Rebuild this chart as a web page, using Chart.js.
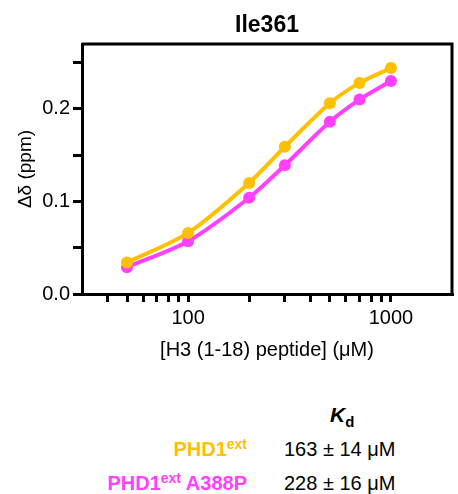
<!DOCTYPE html>
<html>
<head>
<meta charset="utf-8">
<script src="https://cdn.jsdelivr.net/npm/chart.js@4/dist/chart.umd.min.js"></script>
<style>
  body { margin: 0; background: #fff; font-family: "Liberation Sans", Arial, sans-serif; }
  #wrap { position: relative; width: 458px; height: 494px; }
  #chartBox { position: absolute; left: 0; top: 0; width: 458px; height: 370px; }
  .t { position: absolute; font-size: 20px; line-height: 20px; white-space: nowrap; }
  .b { font-weight: bold; }
  sup { font-size: 14px; vertical-align: 7px; line-height: 0; }
</style>
</head>
<body>
<div id="wrap">
  <div id="chartBox"><canvas id="c" width="458" height="370"></canvas></div>
  <div class="t b" style="left:330px;top:405px;font-size:21px;"><i>K</i><span style="font-size:15px;position:relative;top:5px;">d</span></div>
  <div id="row0" class="t b" style="right:211px;top:439px;"></div>
  <div id="val0" class="t" style="left:284px;top:439px;"></div>
  <div id="row1" class="t b" style="right:211px;top:473px;"></div>
  <div id="val1" class="t" style="left:284px;top:473px;"></div>
</div>
<script>
// concentrations (µM)
var concentrations = [50, 100, 200, 300, 500, 700, 1000];
var phd1Shift = [0.034, 0.066, 0.120, 0.159, 0.206, 0.228, 0.244];
var a388pShift = [0.029, 0.057, 0.104, 0.139, 0.186, 0.210, 0.230];

var seriesNames = ['PHD1<sup>ext</sup>', 'PHD1<sup>ext</sup> A388P'];
var kdTexts = ['163 ± 14 μM', '228 ± 16 μM'];
var seriesColors = ['#ffc000', '#ff40ff'];

var xTickValues = [40, 50, 60, 70, 80, 90, 100, 200, 300, 400, 500, 600, 700, 800, 900, 1000];
var xTickLabels = { 100: '100', 1000: '1000' };
var yTickValues = [0, 0.05, 0.1, 0.15, 0.2, 0.25];
var yTickLabels = { 0: '0.0', 0.1: '0.1', 0.2: '0.2' };

for (var i = 0; i < 2; i++) {
    var r = document.getElementById('row' + i);
    r.innerHTML = seriesNames[i];
    r.style.color = seriesColors[i];
    document.getElementById('val' + i).textContent = kdTexts[i];
}

function toPoints(xs, ys) {
    return xs.map(function (x, i) { return { x: x, y: ys[i] }; });
}

var FONT = '"Liberation Sans", Arial, sans-serif';

var boxPlugin = {
    id: 'boxPlugin',
    afterDraw: function (chart) {
        var ctx = chart.ctx, a = chart.chartArea;
        ctx.save();
        ctx.strokeStyle = '#000';
        ctx.lineWidth = 3;
        ctx.beginPath();
        ctx.moveTo(a.left, a.top);
        ctx.lineTo(a.right, a.top);
        ctx.lineTo(a.right, a.bottom);
        ctx.stroke();
        ctx.fillStyle = '#000';
        ctx.font = 'bold 23px ' + FONT;
        ctx.textAlign = 'center';
        ctx.textBaseline = 'middle';
        ctx.fillText('Ile361', (a.left + a.right) / 2, 26);
        ctx.restore();
    }
};

var ctx = document.getElementById('c').getContext('2d');
var chart = new Chart(ctx, {
    type: 'scatter',
    data: {
        datasets: [
            {
                label: 'PHD1ext',
                data: toPoints(concentrations, phd1Shift),
                borderColor: seriesColors[0],
                backgroundColor: seriesColors[0],
                showLine: true,
                borderWidth: 4,
                pointRadius: 6,
                pointBorderWidth: 0,
                tension: 0.3
            },
            {
                label: 'PHD1ext A388P',
                data: toPoints(concentrations, a388pShift),
                borderColor: seriesColors[1],
                backgroundColor: seriesColors[1],
                showLine: true,
                borderWidth: 4,
                pointRadius: 6,
                pointBorderWidth: 0,
                tension: 0.3
            }
        ]
    },
    options: {
        responsive: false,
        animation: false,
        layout: { padding: { top: 44, right: 2, left: 0, bottom: 0 } },
        plugins: {
            legend: { display: false },
            tooltip: { enabled: false },
            title: { display: false }
        },
        scales: {
            x: {
                type: 'logarithmic',
                min: 30,
                max: 2000,
                afterBuildTicks: function (scale) {
                    scale.ticks = xTickValues.map(function (v) { return { value: v }; });
                },
                afterFit: function (scale) { scale.height = 76; },
                border: { color: '#000', width: 3 },
                grid: { drawOnChartArea: false, color: '#000', lineWidth: 3, tickLength: 8 },
                ticks: {
                    autoSkip: false,
                    maxRotation: 0,
                    color: '#000',
                    padding: 4,
                    font: { family: FONT, size: 20 },
                    callback: function (v) { return xTickLabels[v] || ''; }
                },
                title: {
                    display: true,
                    text: '[H3 (1-18) peptide] (μM)',
                    color: '#000',
                    font: { family: FONT, size: 20 },
                    padding: { top: 0, bottom: 8 }
                }
            },
            y: {
                min: 0,
                max: 0.27,
                afterBuildTicks: function (scale) {
                    scale.ticks = yTickValues.map(function (v) { return { value: v }; });
                },
                afterFit: function (scale) { scale.width = 82; },
                border: { color: '#000', width: 3 },
                grid: { drawOnChartArea: false, color: '#000', lineWidth: 3, tickLength: 9 },
                ticks: {
                    color: '#000',
                    padding: 3,
                    font: { family: FONT, size: 20 },
                    callback: function (v) {
                        var k = Math.round(v * 100) / 100;
                        return yTickLabels[k] || '';
                    }
                },
                title: {
                    display: true,
                    text: 'Δδ (ppm)',
                    color: '#000',
                    font: { family: FONT, size: 19 },
                    padding: { top: 14, bottom: 0 }
                }
            }
        }
    },
    plugins: [boxPlugin]
});
</script>
</body>
</html>
